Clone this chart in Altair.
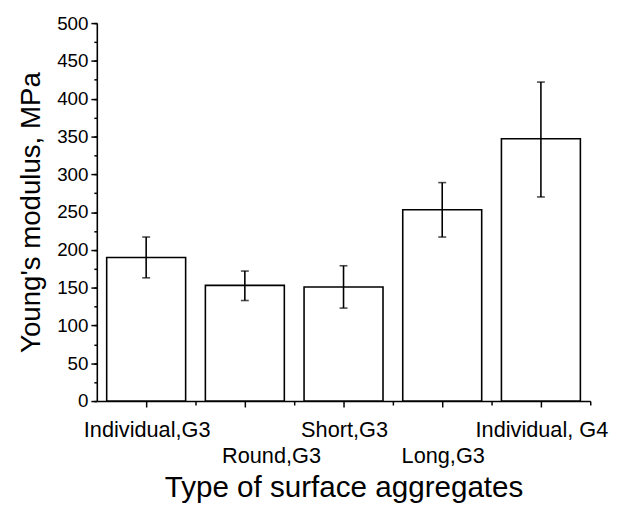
import altair as alt
import pandas as pd

categories = ["Individual,G3", "Round,G3", "Short,G3", "Long,G3", "Individual, G4"]
modulus = [190, 153, 151, 253, 347]
err_low = [163, 133, 123, 217, 270]
err_high = [217, 172, 179, 289, 422]

y_major = list(range(0, 501, 50))
y_minor = list(range(0, 501, 25))

df = pd.DataFrame({"type": categories, "modulus": modulus, "lo": err_low, "hi": err_high})

FONT = "Liberation Sans"
xscale = alt.Scale(domain=categories, paddingInner=0.2, paddingOuter=0.1)
yscale = alt.Scale(domain=[0, 500], nice=False)

lower_row = "datum.value == 'Round,G3' || datum.value == 'Long,G3'"

x_main = alt.X(
    "type:N", sort=categories, scale=xscale,
    axis=alt.Axis(
        title="Type of surface aggregates", orient="bottom", labelAngle=0,
        labelFontSize=22, titleFontSize=30, titleFontWeight="normal",
        tickSize=6,
        labelPadding={"condition": {"test": lower_row, "value": 39}, "value": 13},
        labelOffset={"condition": {"test": "datum.value == 'Round,G3'", "value": 27}, "value": 1},
        labelBaseline="top", titlePadding=7,
    ),
)
y_main = alt.Y(
    "modulus:Q", scale=yscale,
    axis=alt.Axis(
        title="Young's modulus, MPa", orient="left", values=y_major,
        labelFontSize=19, titleFontSize=28, titleFontWeight="normal",
        tickSize=6, labelPadding=3, titlePadding=11,
    ),
)

bars = alt.Chart(df).mark_bar(fill="white", stroke="black", strokeWidth=1.6).encode(x=x_main, y=y_main)

rules = alt.Chart(df).mark_rule(color="black", strokeWidth=1.6).encode(
    x=alt.X("type:N", sort=categories, scale=xscale, axis=None),
    y=alt.Y("lo:Q", scale=yscale, axis=None),
    y2="hi:Q",
)
cap_lo = alt.Chart(df).mark_tick(color="black", size=8, thickness=1.6).encode(
    x=alt.X("type:N", sort=categories, scale=xscale, axis=None),
    y=alt.Y("lo:Q", scale=yscale, axis=None),
)
cap_hi = alt.Chart(df).mark_tick(color="black", size=8, thickness=1.6).encode(
    x=alt.X("type:N", sort=categories, scale=xscale, axis=None),
    y=alt.Y("hi:Q", scale=yscale, axis=None),
)

minor = alt.Chart(df).mark_point(opacity=0).encode(
    x=alt.X("type:N", sort=categories, scale=xscale,
            axis=alt.Axis(orient="bottom", labels=False, title=None, domain=False,
                          tickSize=4, bandPosition=1.125)),
    y=alt.Y("modulus:Q", scale=yscale,
            axis=alt.Axis(orient="left", labels=False, title=None, domain=False,
                          tickSize=3, values=y_minor)),
)

chart = (
    alt.layer(bars, rules, cap_lo, cap_hi, minor)
    .resolve_axis(x="independent", y="independent")
    .properties(width=500, height=383, autosize=alt.AutoSizeParams(type="none"),
                padding={"left": 90, "top": 12, "right": 19, "bottom": 100})
    .configure_view(stroke=None)
    .configure_axis(
        domainColor="black", domainWidth=1.6, tickColor="black", tickWidth=1.5,
        labelColor="black", titleColor="black", labelFont=FONT, titleFont=FONT,
        grid=False,
    )
)

chart.save("out.html", embed_options={"renderer": "svg", "actions": False})
